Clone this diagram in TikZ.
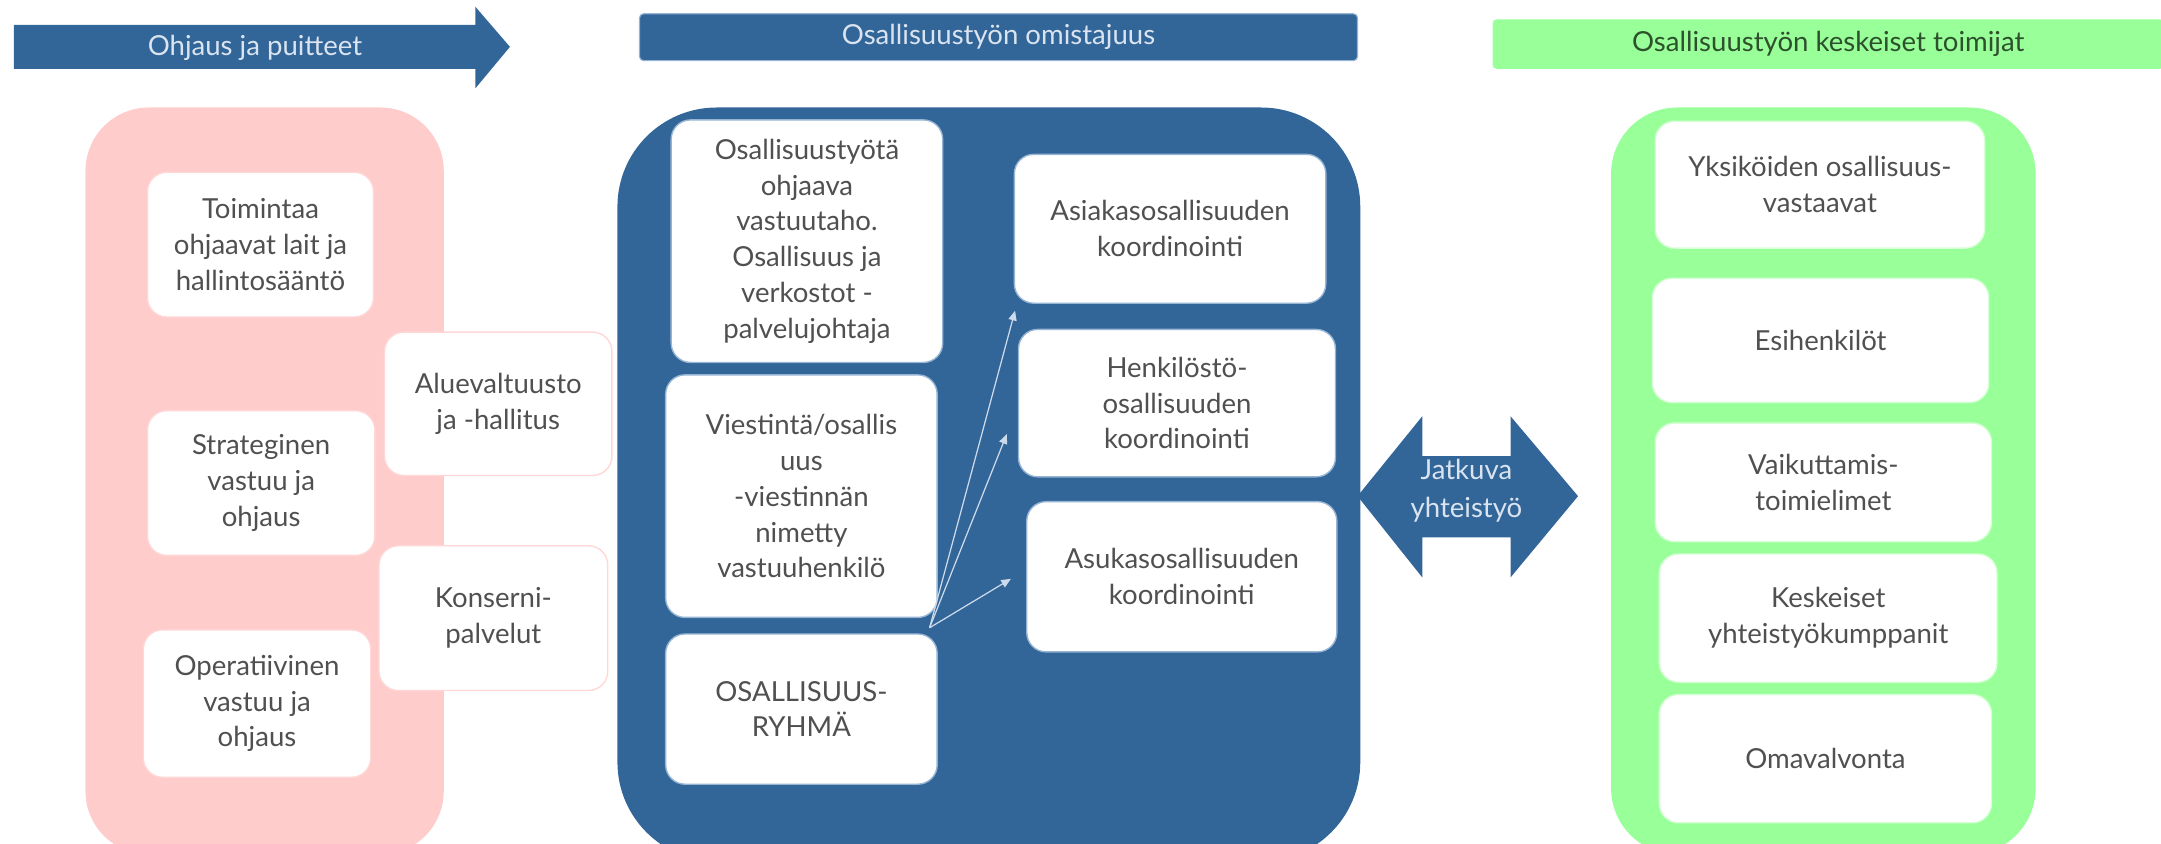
\documentclass[tikz,border=0pt]{standalone}
\usepackage{fontspec}
\setmainfont{Lato}
\usetikzlibrary{arrows.meta}
\definecolor{cblue}{RGB}{50,101,152}
\definecolor{cblueedge}{RGB}{150,180,212}
\definecolor{cpink}{RGB}{255,204,204}
\definecolor{cpinkedge}{RGB}{255,215,215}
\definecolor{cgreen}{RGB}{153,255,153}
\definecolor{cgreenedge}{RGB}{215,255,215}
\definecolor{ctxt}{RGB}{80,80,80}
\definecolor{clight}{RGB}{218,228,240}
\definecolor{cgreentxt}{RGB}{45,80,45}
\definecolor{carrow}{RGB}{205,218,235}
\begin{document}
\begin{tikzpicture}[x=1pt,y=-1pt,
  font=\fontsize{20}{26}\selectfont,
  wbox/.style={draw, fill=white, rounded corners=14pt, line width=1pt,
    align=center, text=ctxt, inner sep=2pt},
  pbox/.style={wbox, draw=cpinkedge},
  bbox/.style={wbox, draw=cblueedge},
  gbox/.style={wbox, draw=cgreenedge},
  hdr/.style={align=center, inner sep=0pt},
  conn/.style={draw=carrow, line width=0.9pt, -{Triangle[length=7pt,width=6pt]}}
]
\path[use as bounding box] (0,0) rectangle (1568,612);
\clip (0,0) rectangle (1568,612);

% header arrow
\fill[cblue] (10,18) -- (345,18) -- (345,5) -- (370,34) -- (345,64) -- (345,50) -- (10,50) -- cycle;
\node[hdr, text=clight] (ohj) at (185,35) {Ohjaus ja puitteet};

% middle banner
\node[hdr, fill=cblue, draw=cblueedge, line width=0.8pt, rounded corners=3pt,
  minimum width=521pt, minimum height=34pt, text=clight] (omi) at (724.5,27) {Osallisuustyön omistajuus};

% right banner
\node[hdr, fill=cgreen, rounded corners=3pt,
  minimum width=487pt, minimum height=36pt, text=cgreentxt] (kes0) at (1326.5,32) {Osallisuustyön keskeiset toimijat};

% containers
\fill[cpink, rounded corners=46pt] (62,78) rectangle (322,620);
\fill[cblue, rounded corners=72pt] (448,78) rectangle (987,625);
\fill[cgreen, rounded corners=48pt] (1169,78) rectangle (1477,620);

% pink column
\node[pbox, minimum width=164pt, minimum height=105pt] (toim) at (189,177.5) {Toimintaa\\ohjaavat lait ja\\hallintosääntö};
\node[pbox, minimum width=165pt, minimum height=105pt] (stra) at (189.5,350.5) {Strateginen\\vastuu ja\\ohjaus};
\node[pbox, minimum width=165pt, minimum height=107pt] (oper) at (186.5,510.5) {Operatiivinen\\vastuu ja\\ohjaus};
\node[pbox, minimum width=165pt, minimum height=104pt] (alue) at (361.5,293) {Aluevaltuusto\\ja -hallitus};
\node[pbox, minimum width=166pt, minimum height=105pt] (kons) at (358,448.5) {Konserni-\\palvelut};

% blue column
\node[bbox, minimum width=197pt, minimum height=176pt] (oto) at (585.5,175) {Osallisuustyötä\\ohjaava\\vastuutaho.\\Osallisuus ja\\verkostot -\\palvelujohtaja};
\node[bbox, minimum width=197pt, minimum height=176pt] (vie) at (581.5,360) {Viestintä/osallis\\uus\\-viestinnän\\nimetty\\vastuuhenkilö};
\node[bbox, minimum width=197pt, minimum height=109pt] (osr) at (581.5,514.5) {OSALLISUUS-\\RYHMÄ};
\node[bbox, minimum width=226pt, minimum height=108pt] (asi) at (849,166) {Asiakasosallisuuden\\koordinointi};
\node[bbox, minimum width=230pt, minimum height=107pt] (hen) at (854,292.5) {Henkilöstö-\\osallisuuden\\koordinointi};
\node[bbox, minimum width=225pt, minimum height=109pt] (asu) at (857.5,418.5) {Asukasosallisuuden\\koordinointi};

\draw[conn] ([xshift=-6pt,yshift=4pt]osr.north east) -- ([xshift=1pt,yshift=-5pt]asi.south west);
\draw[conn] ([xshift=-6pt,yshift=4pt]osr.north east) -- ([xshift=-8pt,yshift=-22.5pt]hen.west);
\draw[conn] ([xshift=-6pt,yshift=4pt]osr.north east) -- ([xshift=-11pt,yshift=-1.5pt]asu.west);

% double arrow
\fill[cblue] (985,360) -- (1032,302) -- (1032,331) -- (1096,331) -- (1096,302) -- (1145,360)
  -- (1096,419) -- (1096,390) -- (1032,390) -- (1032,419) -- cycle;
\node[hdr, text=clight, font=\fontsize{20}{28}\selectfont] (jat) at (1064,356) {Jatkuva\\yhteistyö};

% green column
\node[gbox, minimum width=239pt, minimum height=92pt] (yks) at (1320.5,134) {Yksiköiden osallisuus-\\vastaavat};
\node[gbox, minimum width=244pt, minimum height=90pt] (esi) at (1321,247) {Esihenkilöt};
\node[gbox, minimum width=244pt, minimum height=86pt] (vai) at (1323,350) {Vaikuttamis-\\toimielimet};
\node[gbox, minimum width=245pt, minimum height=93pt] (kes) at (1326.5,448.5) {Keskeiset\\yhteistyökumppanit};
\node[gbox, minimum width=241pt, minimum height=93pt] (oma) at (1324.5,550.5) {Omavalvonta};
\end{tikzpicture}
\end{document}
